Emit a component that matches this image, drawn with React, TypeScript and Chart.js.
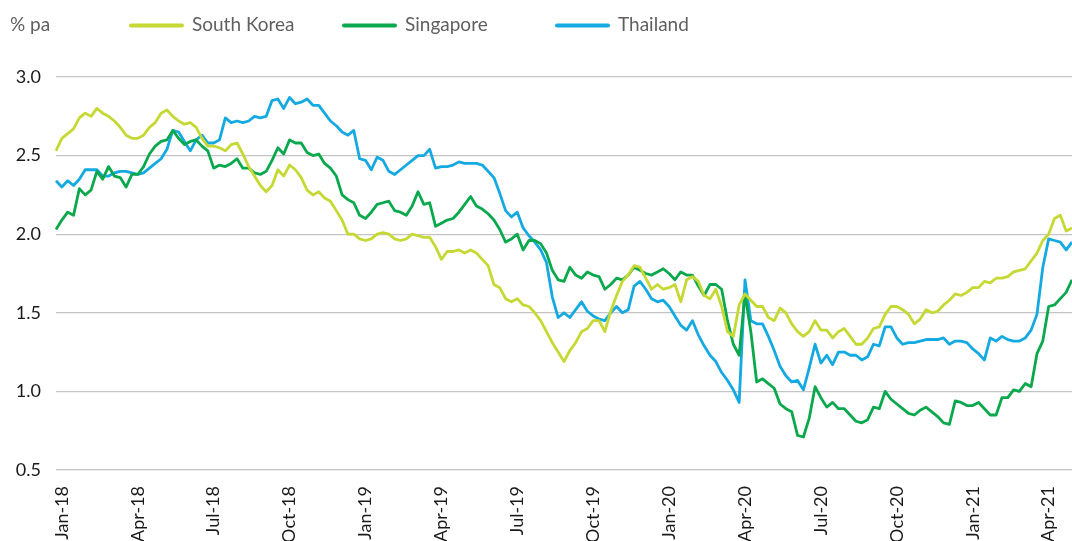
import React, { useEffect, useRef } from "react";
import { Chart, registerables } from "chart.js";

Chart.register(...registerables);

// Weekly observations, first week ending 29 Dec 2017
const START_DATE = "2017-12-29";

const SERIES_NAMES = ["South Korea", "Singapore", "Thailand"];
const SERIES_COLORS = ["#c5d834", "#0aa84c", "#14a9e1"];

const SOUTH_KOREA = [
  2.53, 2.61, 2.64, 2.67, 2.74, 2.77, 2.75, 2.8, 2.77, 2.75, 2.72, 2.68, 2.63, 2.61, 2.61, 2.63, 2.68, 2.71, 2.77, 2.79,
  2.75, 2.72, 2.7, 2.71, 2.68, 2.61, 2.56, 2.56, 2.55, 2.53, 2.57, 2.58, 2.51, 2.43, 2.37, 2.31, 2.27, 2.31, 2.41, 2.37,
  2.44, 2.41, 2.36, 2.28, 2.25, 2.27, 2.23, 2.21, 2.15, 2.09, 2.0, 2.0, 1.97, 1.96, 1.97, 2.0, 2.01, 2.0, 1.97, 1.96,
  1.97, 2.0, 1.99, 1.98, 1.98, 1.92, 1.84, 1.89, 1.89, 1.9, 1.88, 1.9, 1.88, 1.84, 1.8, 1.68, 1.66, 1.59, 1.57, 1.59,
  1.55, 1.54, 1.5, 1.45, 1.38, 1.31, 1.25, 1.19, 1.26, 1.31, 1.38, 1.4, 1.45, 1.45, 1.38, 1.51, 1.61, 1.7, 1.74, 1.8,
  1.79, 1.72, 1.65, 1.68, 1.65, 1.66, 1.68, 1.57, 1.71, 1.73, 1.7, 1.61, 1.59, 1.65, 1.54, 1.38, 1.35, 1.55, 1.62, 1.58,
  1.54, 1.54, 1.47, 1.45, 1.53, 1.5, 1.43, 1.38, 1.35, 1.38, 1.45, 1.39, 1.39, 1.34, 1.38, 1.4, 1.35, 1.3, 1.3, 1.34,
  1.4, 1.41, 1.49, 1.54, 1.54, 1.52, 1.49, 1.43, 1.46, 1.52, 1.5, 1.51, 1.55, 1.58, 1.62, 1.61, 1.63, 1.66, 1.66, 1.7,
  1.69, 1.72, 1.72, 1.73, 1.76, 1.77, 1.78, 1.83, 1.88, 1.96, 2.0, 2.1, 2.12, 2.02, 2.04,
];

const SINGAPORE = [
  2.03, 2.09, 2.14, 2.12, 2.29, 2.25, 2.28, 2.4, 2.35, 2.43, 2.37, 2.36, 2.3, 2.38, 2.38, 2.43, 2.51, 2.56, 2.59, 2.6,
  2.66, 2.61, 2.57, 2.59, 2.6, 2.56, 2.53, 2.42, 2.44, 2.43, 2.45, 2.48, 2.42, 2.42, 2.39, 2.38, 2.4, 2.47, 2.55, 2.51,
  2.6, 2.58, 2.58, 2.52, 2.5, 2.51, 2.45, 2.42, 2.37, 2.25, 2.22, 2.2, 2.12, 2.1, 2.14, 2.19, 2.2, 2.21, 2.15, 2.14,
  2.12, 2.18, 2.27, 2.19, 2.2, 2.05, 2.07, 2.09, 2.1, 2.14, 2.19, 2.24, 2.18, 2.16, 2.13, 2.09, 2.03, 1.95, 1.97, 2.0,
  1.9, 1.96, 1.96, 1.94, 1.88, 1.77, 1.71, 1.7, 1.79, 1.74, 1.72, 1.76, 1.74, 1.73, 1.65, 1.68, 1.72, 1.71, 1.74, 1.79,
  1.77, 1.75, 1.74, 1.76, 1.78, 1.75, 1.71, 1.76, 1.74, 1.74, 1.67, 1.61, 1.68, 1.68, 1.65, 1.45, 1.3, 1.23, 1.62, 1.38,
  1.06, 1.08, 1.05, 1.02, 0.92, 0.89, 0.87, 0.72, 0.71, 0.83, 1.03, 0.96, 0.9, 0.93, 0.89, 0.89, 0.85, 0.81, 0.8, 0.82,
  0.9, 0.89, 1.0, 0.95, 0.92, 0.89, 0.86, 0.85, 0.88, 0.9, 0.87, 0.84, 0.8, 0.79, 0.94, 0.93, 0.91, 0.91, 0.93, 0.89,
  0.85, 0.85, 0.96, 0.96, 1.01, 1.0, 1.05, 1.03, 1.24, 1.32, 1.54, 1.55, 1.59, 1.63, 1.71,
];

const THAILAND = [
  2.34, 2.3, 2.34, 2.31, 2.35, 2.41, 2.41, 2.41, 2.37, 2.37, 2.39, 2.4, 2.4, 2.39, 2.38, 2.39, 2.42, 2.45, 2.48, 2.54,
  2.66, 2.65, 2.59, 2.53, 2.6, 2.63, 2.58, 2.58, 2.6, 2.74, 2.71, 2.72, 2.71, 2.72, 2.75, 2.74, 2.75, 2.85, 2.86, 2.8,
  2.87, 2.83, 2.84, 2.86, 2.82, 2.82, 2.77, 2.72, 2.69, 2.65, 2.63, 2.66, 2.48, 2.47, 2.41, 2.49, 2.47, 2.4, 2.38, 2.41,
  2.44, 2.47, 2.5, 2.5, 2.54, 2.42, 2.43, 2.43, 2.44, 2.46, 2.45, 2.45, 2.45, 2.44, 2.4, 2.36, 2.26, 2.15, 2.11, 2.14,
  2.04, 1.99, 1.95, 1.9, 1.82, 1.6, 1.47, 1.5, 1.47, 1.52, 1.57, 1.51, 1.48, 1.46, 1.45, 1.5, 1.54, 1.5, 1.52, 1.67,
  1.7, 1.65, 1.59, 1.57, 1.58, 1.54, 1.48, 1.42, 1.39, 1.45, 1.36, 1.29, 1.23, 1.19, 1.12, 1.07, 1.01, 0.93, 1.71, 1.45,
  1.43, 1.43, 1.35, 1.26, 1.16, 1.1, 1.06, 1.07, 1.01, 1.15, 1.3, 1.18, 1.23, 1.17, 1.25, 1.25, 1.23, 1.23, 1.2, 1.22,
  1.3, 1.29, 1.41, 1.41, 1.34, 1.3, 1.31, 1.31, 1.32, 1.33, 1.33, 1.33, 1.34, 1.3, 1.32, 1.32, 1.31, 1.27, 1.24, 1.2,
  1.34, 1.32, 1.35, 1.33, 1.32, 1.32, 1.34, 1.39, 1.49, 1.79, 1.97, 1.96, 1.95, 1.9, 1.95,
];

const TICK_LABELS = [
  "Jan-18", "Apr-18", "Jul-18", "Oct-18", "Jan-19", "Apr-19", "Jul-19",
  "Oct-19", "Jan-20", "Apr-20", "Jul-20", "Oct-20", "Jan-21", "Apr-21",
];

const Y_MIN = 0.5;
const Y_MAX = 3.0;
const Y_STEP = 0.5;
const UNIT_LABEL = "% pa";

const MONTHS = ["Jan", "Feb", "Mar", "Apr", "May", "Jun", "Jul", "Aug", "Sep", "Oct", "Nov", "Dec"];

function buildDates(n: number): Date[] {
  const [y, m, d] = START_DATE.split("-").map(Number);
  const out: Date[] = [];
  for (let i = 0; i < n; i++) out.push(new Date(y, m - 1, d + 7 * i));
  return out;
}

const FONT = "Lato, 'Open Sans', sans-serif";

const customLegend = {
  id: "customLegend",
  afterDraw(chart: any) {
    const ctx = chart.ctx;
    ctx.save();
    ctx.font = `19px ${FONT}`;
    ctx.fillStyle = "#5f5f5f";
    ctx.textBaseline = "middle";
    ctx.textAlign = "left";
    ctx.fillText(UNIT_LABEL, 10, 25);
    const startX = 129;
    const itemStep = 213;
    const lineLen = 55;
    chart.data.datasets.forEach((ds: any, i: number) => {
      const x = startX + i * itemStep;
      ctx.strokeStyle = ds.borderColor;
      ctx.lineWidth = 4;
      ctx.lineCap = "round";
      ctx.beginPath();
      ctx.moveTo(x + 2, 25.5);
      ctx.lineTo(x + lineLen - 2, 25.5);
      ctx.stroke();
      ctx.fillStyle = "#5f5f5f";
      ctx.fillText(ds.label, x + lineLen + 8, 25);
    });
    ctx.restore();
  },
};

export default function App() {
  const canvasRef = useRef<HTMLCanvasElement | null>(null);

  useEffect(() => {
    const canvas = canvasRef.current;
    if (!canvas) return;
    const dates = buildDates(SOUTH_KOREA.length);
    const labels = dates.map((d) => d.toISOString().slice(0, 10));
    const seriesValues = [SOUTH_KOREA, SINGAPORE, THAILAND];

    const chart = new Chart(canvas, {
      type: "line",
      data: {
        labels,
        datasets: seriesValues.map((vals, i) => ({
          label: SERIES_NAMES[i],
          data: vals,
          borderColor: SERIES_COLORS[i],
          backgroundColor: SERIES_COLORS[i],
          borderWidth: 2.8,
          pointRadius: 0,
          tension: 0,
          borderJoinStyle: "round" as const,
        })),
      },
      options: {
        animation: false,
        responsive: false,
        maintainAspectRatio: false,
        layout: { padding: { top: 77, right: 0, left: 0, bottom: 0 } },
        plugins: {
          legend: { display: false },
          tooltip: { enabled: false },
        },
        scales: {
          x: {
            type: "category",
            offset: false,
            grid: { display: false, drawTicks: false },
            border: { display: false },
            afterFit: (scale: any) => {
              scale.height = 71;
              scale.paddingRight = 0;
              scale.paddingLeft = 0;
            },
            ticks: {
              autoSkip: false,
              maxRotation: 90,
              minRotation: 90,
              padding: 16,
              color: "#1a1a1a",
              font: { family: FONT, size: 18 },
              callback: (_v: any, index: number) => {
                const d = dates[index];
                if (!d || d.getDate() > 7) return null;
                const txt = `${MONTHS[d.getMonth()]}-${String(d.getFullYear()).slice(2)}`;
                return TICK_LABELS.includes(txt) ? txt : null;
              },
            },
          },
          y: {
            min: Y_MIN,
            max: Y_MAX,
            grid: { color: "#c4c4c4", lineWidth: 1.2, drawTicks: false },
            border: { display: false },
            afterFit: (scale: any) => {
              scale.width = 56;
            },
            ticks: {
              stepSize: Y_STEP,
              padding: 15,
              color: "#1a1a1a",
              font: { family: FONT, size: 18 },
              callback: (v: any) => Number(v).toFixed(1),
            },
          },
        },
      },
      plugins: [customLegend],
    });
    return () => chart.destroy();
  }, []);

  return (
    <div style={{ position: "fixed", left: 0, top: 0, width: 1072, height: 541, background: "#fff" }}>
      <canvas ref={canvasRef} width={1072} height={541} style={{ display: "block" }} />
    </div>
  );
}
